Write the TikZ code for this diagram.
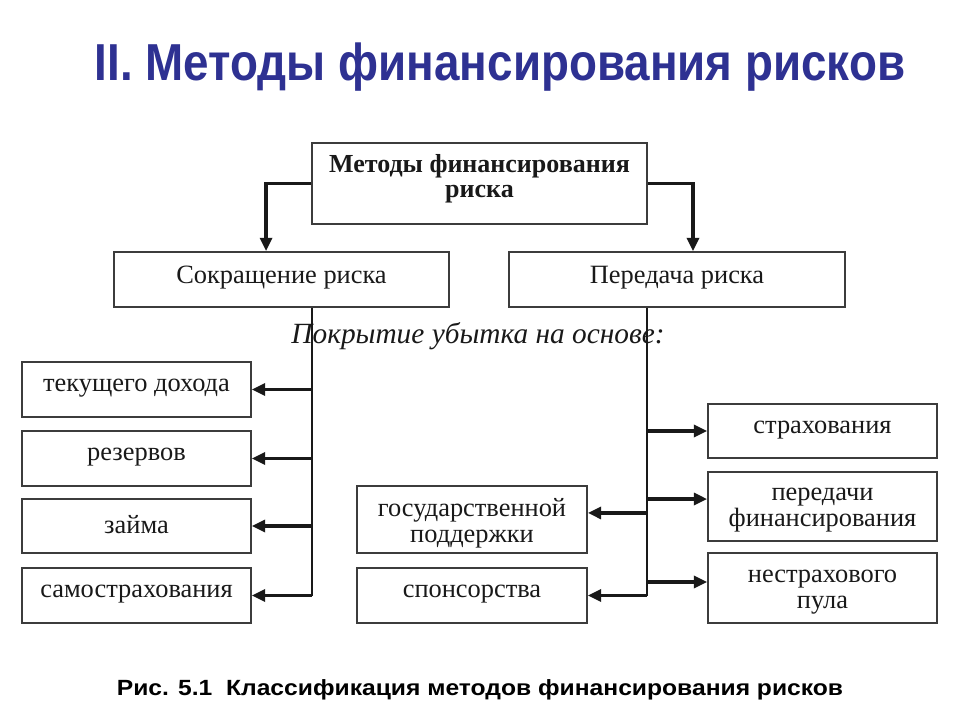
\documentclass[tikz,border=0pt]{standalone}
\usepackage{fontspec}
\setmainfont{Liberation Serif}
\newfontfamily\sansf{Liberation Sans}
\usetikzlibrary{arrows.meta}
\definecolor{titleblue}{RGB}{46,49,146}
\definecolor{ink}{RGB}{25,25,25}
\definecolor{frame}{RGB}{60,60,60}
\begin{document}
\begin{tikzpicture}[x=0.75pt,y=-0.75pt,
  box/.style={draw=frame, line width=1.3pt, inner sep=0pt},
  conn/.style={draw=ink, line width=2.4pt, -{Triangle[length=10pt,width=9pt]}},
  trunk/.style={draw=ink, line width=1.3pt},
  lbl/.style={text=ink, font=\fontsize{19.8}{19.5}\selectfont, align=center, inner sep=0pt},
  blbl/.style={lbl, font=\fontsize{19.5}{19}\selectfont\bfseries}]
\useasboundingbox[fill=white] (0,0) rectangle (960,720);

% title and caption
\node[text=titleblue, font=\sansf\bfseries\fontsize{39}{42}\selectfont, inner sep=0pt] (title) at (500,67)
  {\scalebox{0.88}[1]{II. Методы финансирования рисков}};
\node[text=black, font=\sansf\bfseries\fontsize{16.5}{18}\selectfont, inner sep=0pt] (caption) at (480,690)
  {\scalebox{1.12}[1]{Рис. 5.1\ \ Классификация методов финансирования рисков}};

% boxes
\node[box, minimum width=251.25pt, minimum height=60.75pt] (top) at (479.5,183.5) {};
\node[box, minimum width=251.25pt, minimum height=41.25pt] (cut) at (281.5,279.5) {};
\node[box, minimum width=252pt, minimum height=41.25pt] (pass) at (677,279.5) {};

\node[box, minimum width=171.75pt, minimum height=41.25pt] (l1) at (136.5,389.5) {};
\node[box, minimum width=171.75pt, minimum height=41.25pt] (l2) at (136.5,458.5) {};
\node[box, minimum width=171.75pt, minimum height=40.5pt] (l3) at (136.5,526) {};
\node[box, minimum width=171.75pt, minimum height=41.25pt] (l4) at (136.5,595.5) {};

\node[box, minimum width=172.5pt, minimum height=50.25pt] (m1) at (472,519.5) {};
\node[box, minimum width=172.5pt, minimum height=41.25pt] (m2) at (472,595.5) {};

\node[box, minimum width=171.75pt, minimum height=40.5pt] (r1) at (822.5,431) {};
\node[box, minimum width=171.75pt, minimum height=51.75pt] (r2) at (822.5,506.5) {};
\node[box, minimum width=171.75pt, minimum height=52.5pt] (r3) at (822.5,588) {};

% labels
\node[blbl] (ttop) at (479.5,179) {Методы финансирования\\риска};
\node[lbl] (tcut) at (281.5,278) {Сокращение риска};
\node[lbl] (tpass) at (677,278) {Передача риска};
\node[lbl] (tl1) at (136.5,388) {текущего дохода};
\node[lbl] (tl2) at (136.5,457) {резервов};
\node[lbl] (tl3) at (136.5,525) {займа};
\node[lbl] (tl4) at (136.5,594) {самострахования};
\node[lbl] (tm1) at (472,523) {государственной\\поддержки};
\node[lbl] (tm2) at (472,594) {спонсорства};
\node[lbl] (tr1) at (822.5,430) {страхования};
\node[lbl] (tr2) at (822.5,510) {передачи\\финансирования};
\node[lbl] (tr3) at (822.5,592) {нестрахового\\пула};

\node[text=ink, font=\itshape\fontsize{22}{24}\selectfont, inner sep=0pt] (cover) at (478,336)
  {Покрытие убытка на основе:};

% trunks
\coordinate (lb) at (312,596);
\coordinate (rb) at (647,596);
\draw[trunk] (cut.south -| lb) -- (lb);
\draw[trunk] (pass.south -| rb) -- (rb);

% connectors from top
\draw[conn] (top.west) -| ([xshift=-11.6pt]cut.north);
\draw[conn] (top.east) -| ([xshift=12pt]pass.north);

% left branch
\draw[conn] (l1.east -| lb) -- (l1.east);
\draw[conn] (l2.east -| lb) -- (l2.east);
\draw[conn] (l3.east -| lb) -- (l3.east);
\draw[conn] (l4.east -| lb) -- (l4.east);

% right branch
\draw[conn] (r1.west -| rb) -- (r1.west);
\draw[conn] ([yshift=5.6pt]r2.west -| rb) -- ([yshift=5.6pt]r2.west);
\draw[conn] ([yshift=4.5pt]r3.west -| rb) -- ([yshift=4.5pt]r3.west);
\draw[conn] ([yshift=4.9pt]m1.east -| rb) -- ([yshift=4.9pt]m1.east);
\draw[conn] (m2.east -| rb) -- (m2.east);
\end{tikzpicture}
\end{document}
